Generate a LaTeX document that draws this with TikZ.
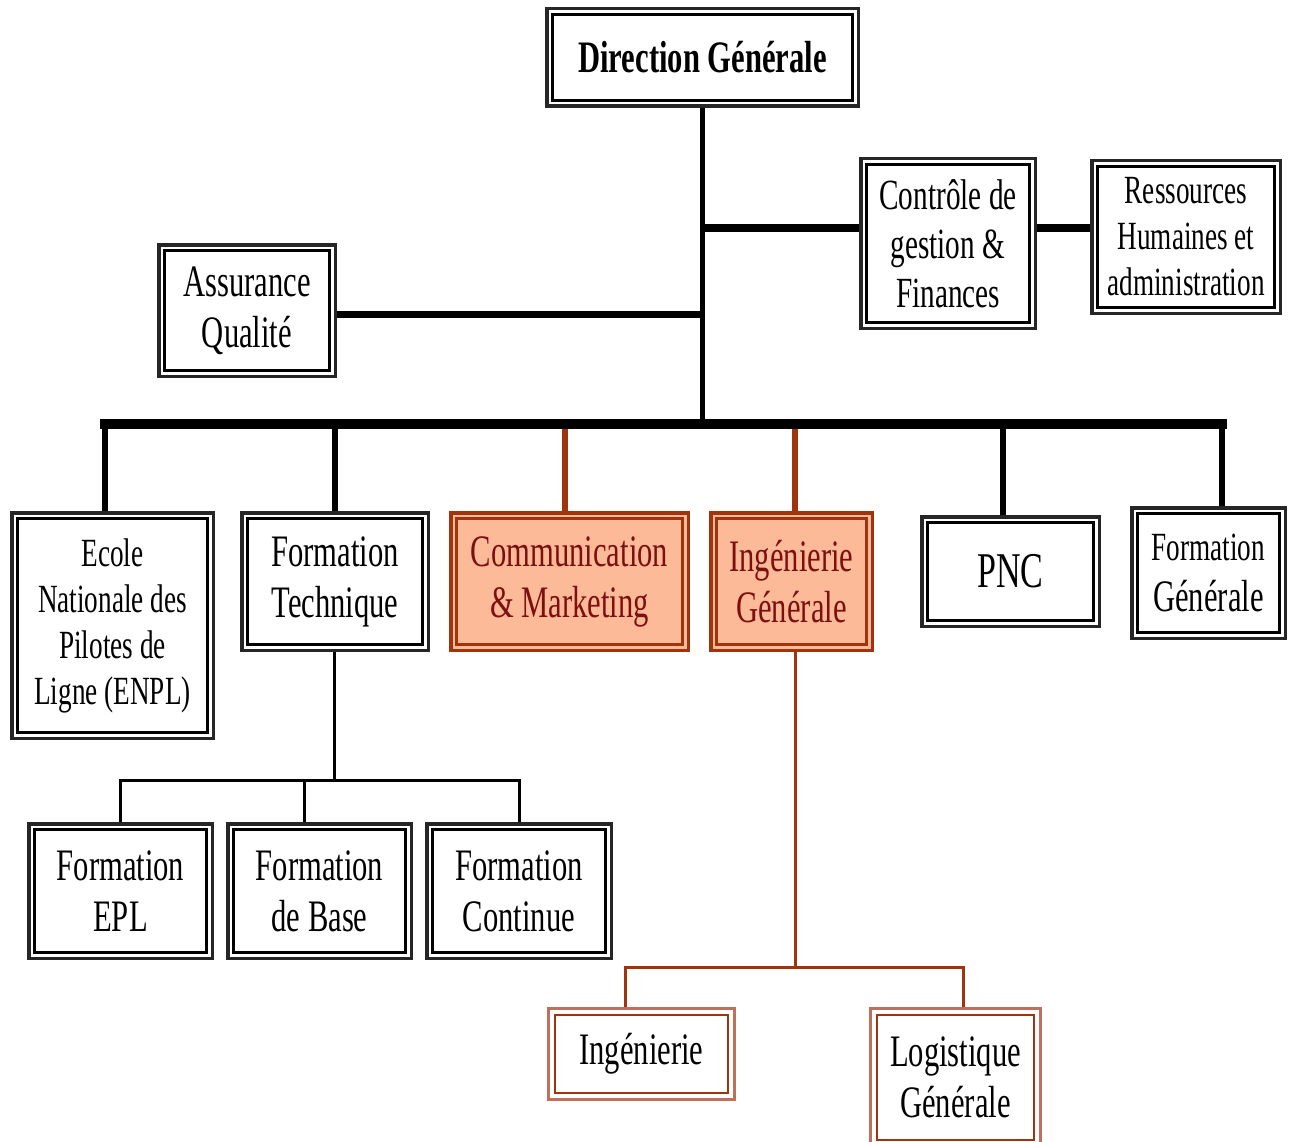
\documentclass[tikz,border=0pt]{standalone}
\usepackage{fontspec}
\setmainfont{Liberation Serif}[FakeStretch=0.68]
\definecolor{brn}{RGB}{160,52,12}
\definecolor{lbrn}{RGB}{190,112,92}
\definecolor{salmon}{RGB}{252,186,152}
\definecolor{dred}{RGB}{125,15,15}
\newcommand\fA{\fontsize{45}{51}\selectfont}
\newcommand\fB{\fontsize{40}{46}\selectfont}
\newcommand\fC{\fontsize{43}{49}\selectfont}
\newcommand\orgbox[8]{%
  \node[#2, minimum width={#6-#4-3.5}, minimum height={#7-#5-3.5}] (#1) at ({(#4+#6)/2},{(#5+#7)/2}) {#8};
  \draw[#3] ([xshift=7.5pt,yshift=-7.5pt]#1.north west) rectangle ([xshift=-7.5pt,yshift=7.5pt]#1.south east);
}
\tikzset{
  ob/.style={draw=black!85, line width=3.5pt, fill=white, inner sep=0pt, align=center, text=black, font=\fA},
  ib/.style={draw=black, line width=2.5pt},
  obo/.style={draw=brn, line width=3.5pt, fill=salmon, inner sep=0pt, align=center, text=dred, font=\fA},
  ibo/.style={draw=brn, line width=2.5pt},
  obl/.style={draw=lbrn, line width=3pt, fill=white, inner sep=0pt, align=center, text=black, font=\fA},
  ibl/.style={draw=brn, line width=2.2pt},
  conn/.style={draw=black, line width=5pt},
  sub/.style={draw=black, line width=3pt},
  bconn/.style={draw=brn, line width=5.5pt},
  bsub/.style={draw=brn, line width=3pt},
}
\begin{document}
\begin{tikzpicture}[x=1pt,y=-1pt]
\useasboundingbox (0,0) rectangle (1293,1142);
\clip (0,0) rectangle (1293,1142);
\fill[white] (0,0) rectangle (1293,1142);
% boxes
\orgbox{dg}{ob,font=\fA\bfseries}{ib}{545}{7}{860}{108}{Direction Générale}
\orgbox{cg}{ob,font=\fC}{ib}{859}{157}{1037}{330}{Contrôle de\\gestion \&\\Finances}
\orgbox{rh}{ob,font=\fB}{ib}{1090}{159}{1282}{315}{Ressources\\Humaines et\\administration}
\orgbox{aq}{ob}{ib}{157}{243}{337}{378}{Assurance\\Qualité}
\orgbox{en}{ob,font=\fB}{ib}{10}{511}{215}{740}{Ecole\\Nationale des\\Pilotes de\\Ligne (ENPL)}
\orgbox{ft}{ob}{ib}{240}{511}{430}{652}{Formation\\Technique}
\orgbox{cm}{obo}{ibo}{449}{511}{690}{652}{Communication\\\& Marketing}
\orgbox{ig}{obo}{ibo}{709}{511}{874}{652}{Ingénierie\\Générale}
\orgbox{pnc}{ob,font=\fontsize{50}{56}\selectfont}{ib}{920}{515}{1101}{628}{PNC}
\orgbox{fg}{ob}{ib}{1130}{506}{1287}{640}{{\fB Formation}\\Générale}
\orgbox{epl}{ob}{ib}{27}{822}{214}{960}{Formation\\EPL}
\orgbox{fb}{ob}{ib}{226}{822}{413}{960}{Formation\\de Base}
\orgbox{fc}{ob}{ib}{425}{822}{613}{960}{Formation\\Continue}
\orgbox{ing}{obl}{ibl}{547}{1007}{736}{1101}{Ingénierie}
\orgbox{lg}{obl}{ibl}{869}{1007}{1042}{1148}{Logistique\\Générale}
% coordinates
\coordinate (t1) at (702.5,228);
\coordinate (t2) at (702.5,314);
\coordinate (b1) at (105,424);
\coordinate (b2) at (335,424);
\coordinate (b3) at (565,424);
\coordinate (b4) at (795,424);
\coordinate (b5) at (1003,424);
\coordinate (b6) at (1222,424);
\coordinate (s0) at (334,780);
\coordinate (s1) at (120,780);
\coordinate (s2) at (304,780);
\coordinate (s3) at (519,780);
\coordinate (r0) at (795,967);
\coordinate (r1) at (625,967);
\coordinate (r2) at (963,967);
% connectors
\draw[conn] (dg.south) -- (dg.south |- b1);
\draw[conn, line width=8pt] (t1) -- (t1 -| cg.west);
\draw[conn, line width=8pt] (t1 -| cg.east) -- (t1 -| rh.west);
\draw[conn, line width=7pt] (t2) -- (t2 -| aq.east);
\draw[conn, line width=5.5pt] (b1 |- en.north) -- (b1);
\draw[conn, line width=5.5pt] (b6) -- (b6 |- fg.north);
\draw[conn, line width=10pt, line cap=rect] (b1) -- (b6);
\draw[conn, line width=5.5pt] (b2) -- (b2 |- ft.north);
\draw[bconn] ([yshift=-5pt]b3) -- (b3 |- cm.north);
\draw[bconn] ([yshift=-5pt]b4) -- (b4 |- ig.north);
\draw[conn, line width=5.5pt] (b5) -- (b5 |- pnc.north);
% Formation Technique subtree
\draw[sub] (s0 |- ft.south) -- (s0);
\draw[sub] (s1 |- epl.north) -- (s1) -- (s3) -- (s3 |- fc.north);
\draw[sub] (s2) -- (s2 |- fb.north);
% Ingenierie Generale subtree
\draw[bsub] (r0 |- ig.south) -- (r0);
\draw[bsub] (r1 |- ing.north) -- (r1) -- (r2) -- (r2 |- lg.north);
\end{tikzpicture}
\end{document}
